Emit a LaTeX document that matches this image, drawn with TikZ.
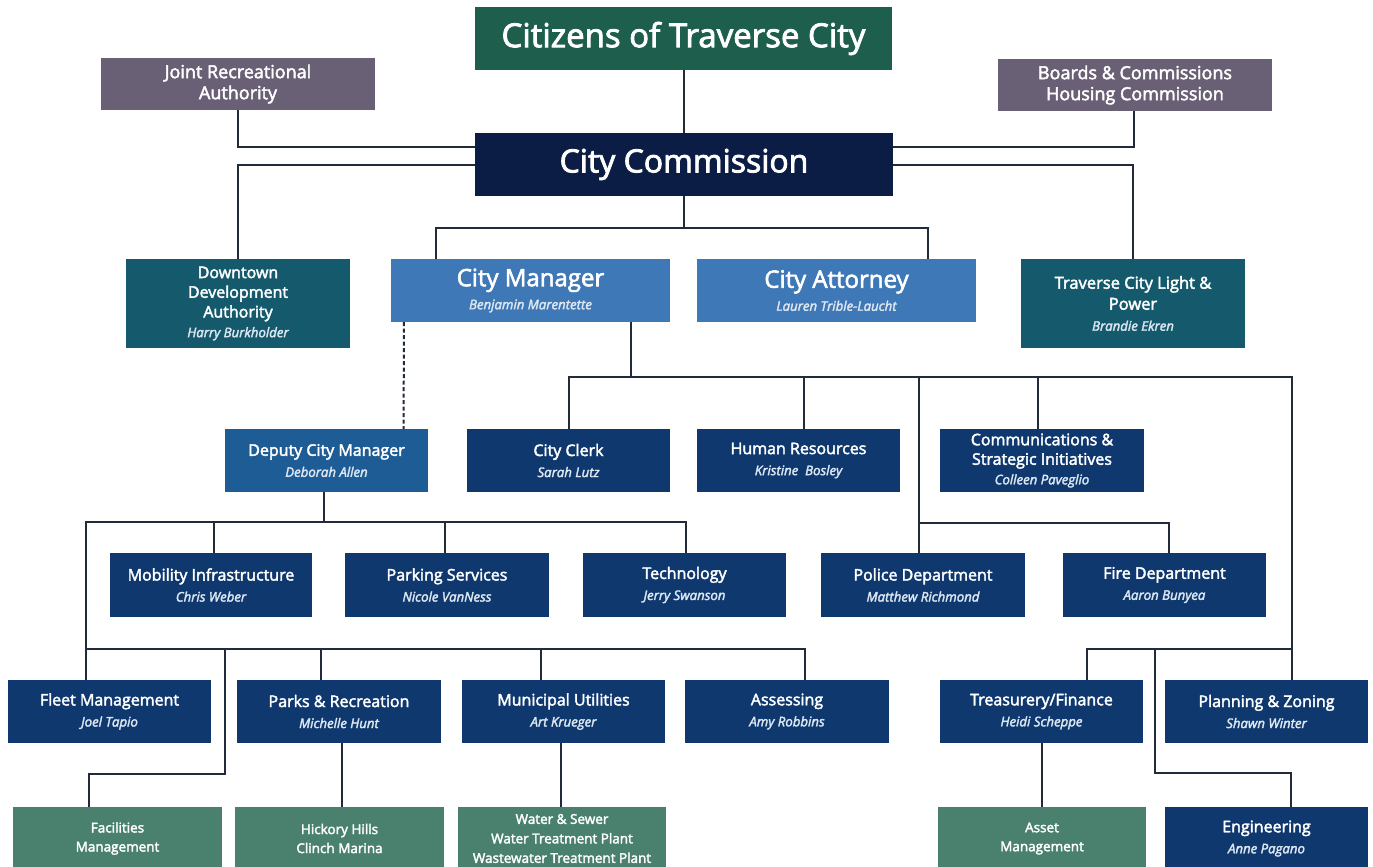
\documentclass[tikz,border=0pt]{standalone}
\usepackage{fontspec}
\setmainfont{Open Sans}[FakeBold=2.5]
\usetikzlibrary{calc}
\definecolor{cgreen}{HTML}{1D5E4C}
\definecolor{cgray}{HTML}{6A6075}
\definecolor{cnavy}{HTML}{0C1D45}
\definecolor{cteal}{HTML}{145A6C}
\definecolor{clblue}{HTML}{3F78B6}
\definecolor{cmblue}{HTML}{1E5C95}
\definecolor{cdept}{HTML}{0F386F}
\definecolor{cbgreen}{HTML}{4A816E}
\definecolor{cline}{HTML}{222B3A}
\newcommand\orgnode[7]{\node[orgbox,#6,minimum width={(#4-#2)*1pt},minimum height={(#5-#3)*1pt}] (#1) at ({(#2+#4)/2},{(#3+#5)/2}) {#7};}
\newcommand\nm[1]{{\fontsize{13.2}{21}\selectfont\itshape\color{white!82!clblue}#1}}
\begin{document}
\begin{tikzpicture}[x=1pt,y=-1pt,
  orgbox/.style={rectangle, inner sep=0pt, text=white, align=center, font=\fontsize{16}{21}\selectfont},
  top/.style={font=\fontsize{18}{21}\selectfont},
  big/.style={font=\fontsize{24}{23}\selectfont},
  low/.style={font=\fontsize{13.5}{19}\selectfont},
  conn/.style={draw=cline, line width=2pt},
]
\useasboundingbox (0,0) rectangle (1373,867);
\fill[white] (0,0) rectangle (1373,867);

% top level
\orgnode{cit}{475}{7}{892}{70}{fill=cgreen,font=\fontsize{33}{34}\selectfont}{Citizens of Traverse City}
\orgnode{jra}{101}{58}{375}{110}{fill=cgray,top}{Joint Recreational\\Authority}
\orgnode{bch}{998}{59}{1272}{111}{fill=cgray,top}{Boards \& Commissions\\Housing Commission}
\orgnode{com}{475}{133}{893}{196}{fill=cnavy,font=\fontsize{32}{34}\selectfont}{City Commission}

% second level
\orgnode{dda}{126}{259}{350}{348}{fill=cteal,font=\fontsize{16}{19.7}\selectfont}{Downtown\\Development\\Authority\\\nm{Harry Burkholder}}
\orgnode{cm}{391}{259}{670}{322}{fill=clblue,big}{City Manager\\\nm{Benjamin Marentette}}
\orgnode{ca}{697}{259}{976}{322}{fill=clblue,big}{City Attorney\\\nm{Lauren Trible-Laucht}}
\orgnode{tclp}{1021}{259}{1245}{348}{fill=cteal,font=\fontsize{16.5}{21}\selectfont}{Traverse City Light \&\\Power\\\nm{Brandie Ekren}}

% third level
\orgnode{dcm}{225}{429}{428}{492}{fill=cmblue}{Deputy City Manager\\\nm{Deborah Allen}}
\orgnode{clerk}{467}{429}{670}{492}{fill=cdept}{City Clerk\\\nm{Sarah Lutz}}
\orgnode{hr}{697}{429}{900}{492}{fill=cdept}{Human Resources\\\nm{Kristine~ Bosley}}
\orgnode{comm}{940}{429}{1144}{492}{fill=cdept,font=\fontsize{16}{19.5}\selectfont}{Communications \&\\Strategic Initiatives\\\nm{Colleen Paveglio}}

% fourth level
\orgnode{mob}{110}{553}{312}{617}{fill=cdept}{Mobility Infrastructure\\\nm{Chris Weber}}
\orgnode{park}{345}{553}{549}{617}{fill=cdept}{Parking Services\\\nm{Nicole VanNess}}
\orgnode{tech}{583}{553}{786}{617}{fill=cdept}{Technology\\\nm{Jerry Swanson}}
\orgnode{pol}{821}{553}{1025}{617}{fill=cdept}{Police Department\\\nm{Matthew Richmond}}
\orgnode{fire}{1063}{553}{1266}{617}{fill=cdept}{Fire Department\\\nm{Aaron Bunyea}}

% fifth level
\orgnode{fleet}{8}{680}{211}{743}{fill=cdept}{Fleet Management\\\nm{Joel Tapio}}
\orgnode{parks}{237}{680}{441}{743}{fill=cdept}{Parks \& Recreation\\\nm{Michelle Hunt}}
\orgnode{mu}{462}{680}{665}{743}{fill=cdept}{Municipal Utilities\\\nm{Art Krueger}}
\orgnode{ass}{685}{680}{889}{743}{fill=cdept}{Assessing\\\nm{Amy Robbins}}
\orgnode{tre}{940}{680}{1143}{743}{fill=cdept}{Treasurery/Finance\\\nm{Heidi Scheppe}}
\orgnode{plan}{1165}{680}{1368}{743}{fill=cdept}{Planning \& Zoning\\\nm{Shawn Winter}}

% bottom level
\orgnode{fac}{13}{807}{222}{870}{fill=cbgreen,low}{Facilities\\Management}
\orgnode{hick}{235}{807}{444}{870}{fill=cbgreen,low}{Hickory Hills\\Clinch Marina}
\orgnode{water}{458}{807}{666}{870}{fill=cbgreen,font=\fontsize{13.5}{19.5}\selectfont}{Water \& Sewer\\Water Treatment Plant\\Wastewater Treatment Plant}
\orgnode{asset}{938}{807}{1146}{870}{fill=cbgreen,low}{Asset\\Management}
\orgnode{eng}{1165}{807}{1368}{870}{fill=cdept}{Engineering\\\nm{Anne Pagano}}

% connectors: top
\draw[conn] (cit.south) -- (cit.south |- com.north);
\draw[conn] (jra.south) |- ($(com.north west)!.22!(com.south west)$);
\draw[conn] (com.west) -| (dda.north);
\draw[conn] ($(bch.south)+(-1,0)$) |- ($(com.north east)!.22!(com.south east)$);
\draw[conn] (com.east) -| (tclp.north);
\coordinate (cmj) at ($(cm.north west)+(45,0)$);
\coordinate (caj) at ($(ca.north east)+(-48,0)$);
\draw[conn] (com.south) -- ($(com.south)+(0,32)$);
\draw[conn] (cmj) |- ($(caj)+(0,-31)$) -- (caj);

% city manager
\draw[conn, dash pattern=on 4pt off 2.5pt] ($(cm.south west)+(13,0)$) -- ($(dcm.north east)+(-24.5,0)$);
\coordinate (cmb) at ($(cm.south east)+(-39,0)$);
\draw[conn] (cmb) -- ($(cmb)+(0,55)$);
\coordinate (planj) at ($(plan.north)+(25.5,0)$);
\coordinate (rtop) at ($(planj)+(0,-303)$);
\draw[conn] (clerk.north) |- (rtop) -- (planj);
\draw[conn] ($(hr.north)+(5.5,0)$) -- ++(0,-52);
\draw[conn] ($(comm.north)+(-4,0)$) -- ++(0,-52);
\coordinate (polj) at ($(pol.north)+(-4.4,0)$);
\draw[conn] (polj) -- ++(0,-176);
\draw[conn] ($(polj)+(0,-30)$) -| ($(fire.north)+(4,0)$);

% right bottom
\coordinate (trej) at ($(tre.north)+(45.5,0)$);
\draw[conn] (trej) |- ($(planj)+(0,-31)$);
\draw[conn] ($(trej)+(68,-31)$) |- ($(eng.north)+(24.5,-34)$) -- ($(eng.north)+(24.5,0)$);
\draw[conn] (tre.south) -- (tre.south |- asset.north);

% deputy
\coordinate (dcmb) at ($(dcm.south)+(-2.8,0)$);
\draw[conn] (dcmb) -- ++(0,30);
\coordinate (fleetj) at ($(fleet.north)+(-23.8,0)$);
\draw[conn] (fleetj) |- ($(tech.north)+(1.5,-31)$) -- ($(tech.north)+(1.5,0)$);
\draw[conn] ($(mob.north)+(3,0)$) -- ++(0,-31);
\draw[conn] ($(park.north)+(-2,0)$) -- ++(0,-31);
\draw[conn] ($(fleetj)+(0,-31)$) -| ($(ass.north)+(18,0)$);
\draw[conn] ($(parks.north)+(-18,0)$) -- ++(0,-31);
\draw[conn] ($(mu.north)+(-22.5,0)$) -- ++(0,-31);
\draw[conn] ($(fleetj)+(138.8,-31)$) -- ++(0,125) -| ($(fac.north)+(-29,0)$);
\draw[conn] ($(parks.south)+(2.5,0)$) -- ($(hick.north)+(2,0)$);
\draw[conn] ($(mu.south)+(-2.5,0)$) -- ($(water.north)+(-1,0)$);
\end{tikzpicture}
\end{document}
